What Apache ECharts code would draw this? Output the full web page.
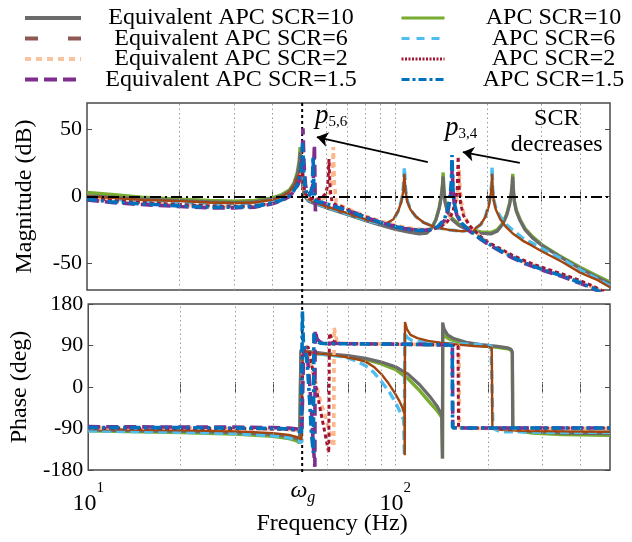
<!DOCTYPE html>
<html>
<head>
<meta charset="utf-8">
<script src="https://cdn.jsdelivr.net/npm/echarts@6/dist/echarts.min.js"></script>
<style>
html, body { margin: 0; padding: 0; background: #fff; }
#chart { width: 632px; height: 542px; }
</style>
</head>
<body>
<div id="chart"></div>
<script>
const SERIF = '"Liberation Serif", "Times New Roman", serif';

// Magnitude responses, [frequency Hz, magnitude dB]
const magApc10 = [[10,3],[12,1.5],[15,-0.5],[20,-2],[25,-3],[30,-3.5],[35,-3],[40,-1],[43,1.5],[45.5,5],[47,10],[48.2,18],[48.9,27],[49.25,37],[49.7,20],[50.3,7],[51,1],[52.5,-3],[55,-5],[60,-8],[66,-11],[70,-13],[80,-17.5],[90,-21],[100,-24],[110,-26],[120,-27.5],[127,-27],[132,-23],[136,-17],[139.5,-8],[141.8,2],[142.9,10],[143.5,18],[144.3,6],[145.5,-3],[148,-10],[153,-16],[162,-21],[175,-24.5],[190,-26.5],[205,-27],[215,-25],[224,-20],[231,-13],[236,-5],[239,3],[240.6,10],[241.5,17],[242.6,6],[244.5,-3],[248,-10],[255,-17],[265,-24],[280,-30],[300,-36],[340,-44],[400,-53],[450,-59],[500,-64]];
const magEq10 = [[10,0.5],[12,-0.5],[15,-2],[20,-3],[25,-4],[30,-4.5],[35,-4],[40,-2],[43,0.5],[45.5,4],[47,9],[48.2,16],[48.9,24],[49.25,33],[49.7,18],[50.3,6],[51,0],[52.5,-3.5],[55,-5.5],[60,-8.5],[66,-11.5],[70,-13.5],[80,-18],[90,-21.5],[100,-24.5],[110,-26.5],[120,-28],[127,-27.5],[132,-23.5],[136,-17.5],[139.5,-8.5],[141.8,1],[142.9,8],[143.5,15],[144.3,5],[145.5,-4],[148,-11],[153,-17],[162,-22],[175,-25.5],[190,-27.5],[205,-28],[215,-26],[224,-21],[231,-14],[236,-6],[239,2],[240.6,8],[241.5,15],[242.6,5],[244.5,-4],[248,-11],[255,-18],[265,-25],[280,-31],[300,-36.5],[340,-44.5],[400,-54],[450,-60],[500,-65]];
const magApc6 = [[10,-1],[12,-2],[15,-3.5],[20,-4.5],[25,-5.5],[30,-5.5],[35,-5],[40,-3],[43,-0.5],[45.5,3],[47,7.5],[48.5,14],[49.4,21],[49.9,29],[50.4,13],[51,2],[52.5,-2.5],[55,-5],[60,-8],[66,-11],[70,-13],[80,-17.5],[88,-20],[94,-20.5],[99,-17.5],[102.5,-11],[105,-3],[106.5,6],[107.4,22],[108.3,6],[109.8,-3],[112.5,-10],[117,-15],[124,-19.5],[135,-23],[150,-25],[165,-26],[180,-25],[190,-21],[197,-15],[202,-6],[205,3],[206.3,10],[207,22],[207.9,6],[209.5,-2],[213,-9],[220,-15],[230,-21],[241,-25],[260,-31],[280,-35],[300,-39],[350,-47],[400,-55],[450,-61],[500,-67]];
const magEq6 = [[10,0],[12,-1],[15,-2.5],[20,-3.5],[25,-4.5],[30,-5],[35,-4.5],[40,-2.5],[43,0],[45.5,3.5],[47,8],[48.5,15],[49.4,23],[49.9,31],[50.4,14],[51,3],[52.5,-2],[55,-4.5],[60,-7.5],[66,-10.5],[70,-12.5],[80,-17],[88,-19.5],[94,-20],[99,-17],[102.5,-11],[105,-4],[106.5,4],[107.4,17],[108.3,4],[109.8,-4],[112.5,-10],[117,-15],[124,-19.5],[135,-23],[150,-25],[165,-26],[180,-25],[190,-21],[197,-15],[202,-7],[205,2],[206.3,8],[207,17],[207.9,5],[209.5,-3],[213,-10],[220,-17],[230,-23],[241,-27.5],[260,-33],[280,-37],[300,-41],[350,-49],[400,-57],[450,-62],[500,-68]];
const magApc2 = [[10,-1],[12,-3],[15,-4.5],[20,-6],[25,-7],[30,-7.5],[35,-7],[40,-5],[43,-2.5],[45.5,1],[47,5],[48.5,11],[49.4,18],[49.8,26],[50.3,10],[51,3],[52.5,-1],[55,-2],[57.5,-1.5],[59.5,2],[60.5,8],[61.1,28],[61.6,6],[62.5,-4],[64,-6],[67,-7.5],[70,-9.5],[80,-15],[90,-19],[100,-22],[110,-24],[120,-25],[130,-25],[140,-23],[148,-19],[154,-12],[157.5,-4],[159.5,6],[160.6,30],[161.6,8],[163.5,-5],[167,-14],[175,-22],[190,-30],[200,-34],[220,-39],[241,-44],[270,-49],[300,-53],[350,-58],[400,-63],[440,-67],[480,-71.5]];
const magEq2 = [[10,-1.5],[12,-3.5],[15,-5],[20,-6.5],[25,-7.5],[30,-8],[35,-7.5],[40,-5.5],[43,-3],[45.5,0.5],[47,4.5],[48.5,10],[49.4,16],[49.9,24],[50.4,9],[51,2],[52.5,-1.5],[55,-2.5],[58,-2],[60.5,0],[62,6],[62.7,14],[63.1,37],[63.6,10],[64.5,-4],[66,-6],[70,-9],[80,-14.5],[90,-18.5],[100,-21.5],[110,-23.5],[120,-24.5],[130,-24.5],[140,-22.5],[148,-18.5],[154,-12],[158,-4],[160.6,6],[161.8,20],[162.8,6],[164.5,-5],[168,-14],[176,-23],[190,-30],[200,-34.5],[220,-40],[241,-45],[270,-50],[300,-54],[350,-59],[400,-64],[440,-68],[480,-72]];
const magEq15 = [[10,-2.5],[12,-4.5],[15,-6],[20,-7.5],[25,-8.5],[30,-8.5],[35,-8],[40,-5.5],[43,-3],[45.5,0],[47,4],[48.5,9],[49.5,16],[50,26],[50.3,51],[50.7,24],[51.3,8],[52.3,2],[53.5,3],[54.3,10],[54.8,39],[55.2,-11],[56,-4],[58,-4.5],[62,-6.5],[66,-8.5],[70,-10.5],[80,-15.5],[90,-19.5],[100,-22.5],[110,-24.5],[120,-25.5],[130,-25],[138,-23],[145,-18],[149,-10],[151.5,-1],[152.8,8],[153.6,22],[154.4,6],[156,-6],[159,-14],[165,-21],[175,-26],[190,-32],[200,-35.5],[220,-41],[241,-46],[270,-51],[300,-55],[350,-60],[400,-65],[440,-69],[465,-72]];
const magApc15 = [[10,-2],[12,-4],[15,-5.5],[20,-7],[25,-8],[30,-8],[35,-7.5],[40,-5],[43,-2.5],[45.5,0.5],[47,4.5],[48.5,10],[49.4,18],[49.9,28],[50.2,40],[50.6,18],[51.3,5],[52.3,0],[53.3,2],[54,10],[54.25,30],[54.7,-2],[56,-4],[58,-4.5],[62,-6.5],[66,-8.5],[70,-10.5],[80,-15.5],[90,-19.5],[100,-22.5],[110,-24.5],[120,-25.5],[130,-25],[138,-22.5],[145,-17],[149,-8],[151.5,2],[152.7,12],[153.4,31],[154.2,8],[156,-5],[159,-13],[165,-20],[175,-25.5],[190,-31.5],[200,-35],[220,-40.5],[241,-45.5],[270,-50.5],[300,-54.5],[350,-59.5],[400,-64.5],[440,-68.5],[470,-72]];

// Phase responses, [frequency Hz, phase deg]
const phApc10 = [[10,-95],[15,-97],[20,-99],[30,-102],[40,-107],[45,-112],[47.5,-116],[48.8,-121],[49.25,-124],[49.3,75],[51,74],[55,72],[60,70],[70,66],[80,60],[90,50],[100,38],[110,18],[120,-8],[130,-35],[137,-52],[141.8,-66],[142.4,-155],[142.7,119],[145,110],[150,104],[160,98],[175,93],[195,89],[215,86],[232,83],[238,80],[240.4,74],[241.2,-86],[250,-95],[280,-100],[350,-103],[500,-105]];
const phEq10 = [[10,-93],[15,-95],[20,-96],[30,-99],[40,-103],[45,-107],[47.5,-111],[48.8,-116],[49.2,-119],[49.25,80],[51,78],[55,75],[60,72],[70,68],[80,62],[90,54],[100,44],[110,28],[120,5],[130,-22],[137,-42],[141.6,-61],[142.4,-155],[142.6,140],[144,126],[148,113],[155,105],[170,97],[190,92],[215,88],[232,85],[238,82],[240.4,76],[241.2,-86],[250,-93],[280,-97],[350,-100],[500,-101]];
const phApc6 = [[10,-95],[15,-97],[20,-98],[30,-101],[40,-106],[45,-110],[48,-116],[49.5,-121],[49.8,-123],[49.9,76],[52,75],[56,72],[60,70],[65,67],[70,63],[75,56],[80,46],[85,32],[90,12],[95,-8],[100,-33],[104,-56],[106.5,-72],[107,-150],[107.3,120],[109,108],[113,101],[120,98],[140,95],[170,93],[195,91],[205,89],[207.3,85],[207.8,-90],[220,-97],[300,-98],[500,-98]];
const phEq6 = [[10,-91],[15,-93],[20,-94],[30,-96],[40,-100],[45,-104],[48,-109],[49.5,-114],[49.85,-117],[49.9,78],[52,76],[56,73],[60,71],[65,68],[70,64],[75,60],[80,55],[85,44],[90,28],[95,8],[100,-15],[103,-30],[105.5,-45],[107.1,-58],[107.3,-148],[107.5,141],[109,126],[112,113],[118,106],[128,100],[140,96],[160,92],[180,89],[200,87],[206,85],[207,-88],[220,-93],[260,-95],[350,-96],[500,-97]];
const phApc2 = [[10,-89],[20,-90],[30,-90],[40,-91],[45,-92],[48,-94],[49.6,-97],[49.8,-98],[49.9,83],[51,86],[52,87],[53,60],[55,5],[57,-50],[59,-100],[60.7,-143],[61,117],[62.5,100],[65,95],[70,94],[100,93],[130,92],[155,91],[160,89],[160.6,-88],[180,-89],[300,-89],[500,-89]];
const phEq2 = [[10,-89],[20,-89],[30,-90],[40,-91],[45,-92],[48,-94],[49.6,-97],[49.9,-98],[50,84],[51,85],[52,70],[53,48],[55,10],[57,-29],[59.4,-68],[61.7,-107],[63,-130],[63.2,128],[64.5,100],[67,95],[75,94],[100,93],[130,92],[155,91],[161,89],[161.8,-88],[180,-90],[300,-90],[500,-90]];
const phEq15 = [[10,-86],[20,-87],[30,-87],[40,-88],[45,-89],[48,-91],[49.6,-95],[50.2,-98],[50.3,85],[51,82],[51.8,60],[52.6,10],[53.4,-60],[54.1,-130],[54.7,-173],[54.8,124],[55.6,104],[57,97],[60,95],[70,94],[100,93],[130,92],[150,91],[153.4,89],[153.8,-88],[170,-89],[250,-89],[500,-89]];
const phApc15 = [[10,-88],[20,-88],[30,-89],[40,-90],[45,-91],[48,-94],[49.4,-99],[49.7,-101],[49.8,165],[50.2,95],[51,82],[51.8,40],[52.6,-30],[53.3,-100],[54.1,-143],[54.3,117],[55,100],[57,95],[60,94],[100,93],[130,92],[150,91],[153.2,89],[153.6,-88],[170,-89],[250,-89],[500,-89]];

// Axis ticks and reference values
const freqMin = 10, freqMax = 500;
const freqLabelHz = [10, 100];
const freqTickHz = [20, 30, 40, 50, 60, 70, 80, 90, 100, 200, 300, 400];
const freqGridHz = [20, 30, 40, 60, 70, 80, 90, 100, 200, 300, 400];
const gridFreqHz = 50;
const magTicks = [-50, 0, 50];

const curves = [
  { name: 'APC SCR=10', mag: magApc10, ph: phApc10, color: '#77ac30', dash: 'solid', width: 3.4 },
  { name: 'Equivalent APC SCR=10', mag: magEq10, ph: phEq10, color: '#6b6b6b', dash: 'solid', width: 3.2 },
  { name: 'APC SCR=6', mag: magApc6, ph: phApc6, color: '#4dbeee', dash: [9, 5], width: 3.4 },
  { name: 'Equivalent APC SCR=6', mag: magEq6, ph: phEq6, color: '#a2450f', dash: 'solid', width: 2.4 },
  { name: 'Equivalent APC SCR=2', mag: magEq2, ph: phEq2, color: '#fcb88a', dash: [5, 4], width: 3.6 },
  { name: 'APC SCR=2', mag: magApc2, ph: phApc2, color: '#a2142f', dash: [4, 3], width: 3 },
  { name: 'Equivalent APC SCR=1.5', mag: magEq15, ph: phEq15, color: '#7e2f8e', dash: [12, 6], width: 3.6 },
  { name: 'APC SCR=1.5', mag: magApc15, ph: phApc15, color: '#0072bd', dash: [10, 4, 3, 4], width: 3.6 }
];

const hiddenMark = { opacity: 0 };
const legendLeft = [
  { name: 'Equivalent APC SCR=10', itemStyle: hiddenMark, lineStyle: { color: '#6b6b6b', width: 4, type: 'solid' } },
  { name: 'Equivalent APC SCR=6', itemStyle: hiddenMark, lineStyle: { color: '#8d5852', width: 4, type: [13, 30] } },
  { name: 'Equivalent APC SCR=2', itemStyle: hiddenMark, lineStyle: { color: '#f9c39b', width: 4, type: [6, 5] } },
  { name: 'Equivalent APC SCR=1.5', itemStyle: hiddenMark, lineStyle: { color: '#7e2f8e', width: 4, type: [13, 6] } }
];
const legendRight = [
  { name: 'APC SCR=10', itemStyle: hiddenMark, lineStyle: { color: '#77ac30', width: 3, type: 'solid' } },
  { name: 'APC SCR=6', itemStyle: hiddenMark, lineStyle: { color: '#4dbeee', width: 3, type: [8, 7] } },
  { name: 'APC SCR=2', itemStyle: hiddenMark, lineStyle: { color: '#a2142f', width: 3, type: [2, 1.5] } },
  { name: 'APC SCR=1.5', itemStyle: hiddenMark, lineStyle: { color: '#0072bd', width: 3, type: [8, 3, 3, 3] } }
];

const frameColor = '#4a4a4a';
const tickStyle = { show: true, inside: true, length: 5, lineStyle: { color: frameColor, width: 1 } };

function freqAxis(gridIndex, position, extra) {
  return Object.assign({
    type: 'log', logBase: 10, min: freqMin, max: freqMax, gridIndex, position,
    axisLine: { show: false },
    axisTick: Object.assign({ customValues: freqTickHz }, tickStyle),
    axisLabel: { show: false },
    splitLine: { show: false }
  }, extra || {});
}

const xAxis = [
  freqAxis(0, 'bottom'),
  freqAxis(0, 'top'),
  freqAxis(1, 'bottom', {
    axisLabel: {
      show: true, customValues: freqLabelHz, margin: 11,
      formatter: v => '{b|10}{s|' + Math.round(Math.log10(v)) + '}',
      rich: {
        b: { fontSize: 24, fontFamily: SERIF, color: '#000', padding: [11, 0, 0, 0] },
        s: { fontSize: 15, fontFamily: SERIF, color: '#000', verticalAlign: 'top' }
      }
    },
    name: 'Frequency (Hz)', nameLocation: 'middle', nameGap: 42, nameMoveOverlap: false,
    nameTextStyle: { fontSize: 24, fontFamily: SERIF, color: '#000', padding: [0, 34, 0, 0] }
  }),
  freqAxis(1, 'top'),
  freqAxis(1, 'bottom', {
    axisTick: { show: false },
    axisLabel: {
      show: true, customValues: [gridFreqHz], margin: 6,
      formatter: () => '{w|ω}{g|g}',
      rich: {
        w: { fontSize: 24, fontFamily: SERIF, fontStyle: 'italic', color: '#000' },
        g: { fontSize: 16, fontFamily: SERIF, fontStyle: 'italic', color: '#000', padding: [14, 0, 0, 0] }
      }
    }
  })
];

const yLabelStyle = { fontSize: 22, fontFamily: SERIF, color: '#000', margin: 5 };
const yNameStyle = { fontSize: 24, fontFamily: SERIF, color: '#000' };
const yAxis = [
  {
    type: 'value', gridIndex: 0, min: -70, max: 70, position: 'left',
    axisLine: { show: false }, splitLine: { show: false },
    axisTick: Object.assign({ customValues: magTicks }, tickStyle),
    axisLabel: Object.assign({ customValues: magTicks }, yLabelStyle),
    name: 'Magnitude (dB)', nameLocation: 'middle', nameGap: 50, nameTextStyle: yNameStyle
  },
  {
    type: 'value', gridIndex: 0, min: -70, max: 70, position: 'right',
    axisLine: { show: false }, splitLine: { show: false },
    axisTick: Object.assign({ customValues: magTicks }, tickStyle),
    axisLabel: { show: false }
  },
  {
    type: 'value', gridIndex: 1, min: -180, max: 180, interval: 90, position: 'left',
    axisLine: { show: false }, splitLine: { show: false },
    axisTick: tickStyle,
    axisLabel: yLabelStyle,
    name: 'Phase (deg)', nameLocation: 'middle', nameGap: 50, nameTextStyle: yNameStyle
  },
  {
    type: 'value', gridIndex: 1, min: -180, max: 180, interval: 90, position: 'right',
    axisLine: { show: false }, splitLine: { show: false },
    axisTick: tickStyle,
    axisLabel: { show: false }
  }
];

const series = [];
// dotted frequency grid lines behind the curves
[[0, 0], [2, 2]].forEach(([xi, yi]) => {
  series.push({
    type: 'line', xAxisIndex: xi, yAxisIndex: yi, data: [], z: 1, silent: true,
    markLine: {
      silent: true, symbol: 'none', label: { show: false }, animation: false,
      lineStyle: { color: '#9c9c9c', type: [1.5, 3], width: 1 },
      data: freqGridHz.map(v => ({ xAxis: v }))
    }
  });
});
curves.forEach(c => {
  const common = {
    name: c.name, type: 'line', symbol: 'none', showSymbol: false, z: 2,
    lineStyle: { color: c.color, width: c.width, type: c.dash, cap: 'butt' },
    itemStyle: { color: c.color }
  };
  series.push(Object.assign({ xAxisIndex: 0, yAxisIndex: 0, data: c.mag }, common));
  series.push(Object.assign({ xAxisIndex: 2, yAxisIndex: 2, data: c.ph }, common));
});
// 0 dB reference
series.push({
  type: 'line', xAxisIndex: 0, yAxisIndex: 0, data: [], z: 4, silent: true,
  markLine: {
    silent: true, symbol: 'none', label: { show: false }, animation: false,
    lineStyle: { color: '#000', width: 1.8, type: [11, 4, 2, 4] },
    data: [{ yAxis: 0 }]
  }
});
// "SCR decreases" arrows
series.push({
  type: 'line', xAxisIndex: 0, yAxisIndex: 0, data: [], z: 5, silent: true,
  markLine: {
    silent: true, symbol: ['none', 'arrow'], symbolSize: 11, label: { show: false }, animation: false,
    lineStyle: { color: '#000', width: 1.8, type: 'solid' },
    data: [
      [{ coord: [128, 25.8] }, { coord: [55.8, 44.5] }],
      [{ coord: [254.7, 25.1] }, { coord: [166.3, 33.3] }]
    ]
  }
});

function legendCfg(left, iconWidth, textWidth, data) {
  return {
    orient: 'vertical', left, top: 1, itemWidth: iconWidth, itemHeight: 12, itemGap: -3.5,
    selectedMode: false, data,
    itemStyle: { opacity: 0 },
    formatter: n => '{t|' + n + '}',
    textStyle: {
      rich: { t: { width: textWidth, align: 'center', fontSize: 24, fontFamily: SERIF, lineHeight: 21, color: '#000' } }
    }
  };
}

const option = {
  animation: false,
  backgroundColor: '#fff',
  grid: [
    { left: 87, top: 103, width: 523, height: 187, show: true, borderColor: frameColor, borderWidth: 1.5, backgroundColor: 'transparent' },
    { left: 87, top: 304, width: 523, height: 166, show: true, borderColor: frameColor, borderWidth: 1.5, backgroundColor: 'transparent' }
  ],
  legend: [legendCfg(18, 56, 290, legendLeft), legendCfg(395, 43, 208, legendRight)],
  xAxis, yAxis, series
};

const chart = echarts.init(document.getElementById('chart'), null, { renderer: 'canvas' });
chart.setOption(option);

// annotations anchored to data coordinates of the magnitude panel
const xPix = hz => chart.convertToPixel({ xAxisIndex: 0 }, hz);
const yMag = db => chart.convertToPixel({ yAxisIndex: 0 }, db);
const yPh = deg => chart.convertToPixel({ yAxisIndex: 2 }, deg);
const x50 = xPix(gridFreqHz);

const poleRich = {
  p: { fontSize: 27, fontFamily: SERIF, fontStyle: 'italic', fill: '#000' },
  s: { fontSize: 15, fontFamily: SERIF, fill: '#000', padding: [13, 0, 0, 0] }
};
chart.setOption({
  graphic: [
    {
      type: 'line', z: 1, silent: true,
      shape: { x1: x50, y1: yMag(70), x2: x50, y2: yPh(-180) + 3 },
      style: { stroke: '#000', lineWidth: 2, lineDash: [3, 3] }
    },
    {
      type: 'text', z: 10, x: xPix(55.0), y: yMag(60.3),
      style: { text: '{p|p}{s|5,6}', rich: poleRich, align: 'left', verticalAlign: 'middle' }
    },
    {
      type: 'text', z: 10, x: xPix(145.6), y: yMag(51.3),
      style: { text: '{p|p}{s|3,4}', rich: poleRich, align: 'left', verticalAlign: 'middle' }
    },
    {
      type: 'text', z: 10, x: xPix(335.7), y: yMag(48.3),
      style: {
        text: 'SCR\ndecreases', fontSize: 24, fontFamily: SERIF, fill: '#000',
        lineHeight: 26, align: 'center', verticalAlign: 'middle'
      }
    }
  ]
});
</script>
</body>
</html>
